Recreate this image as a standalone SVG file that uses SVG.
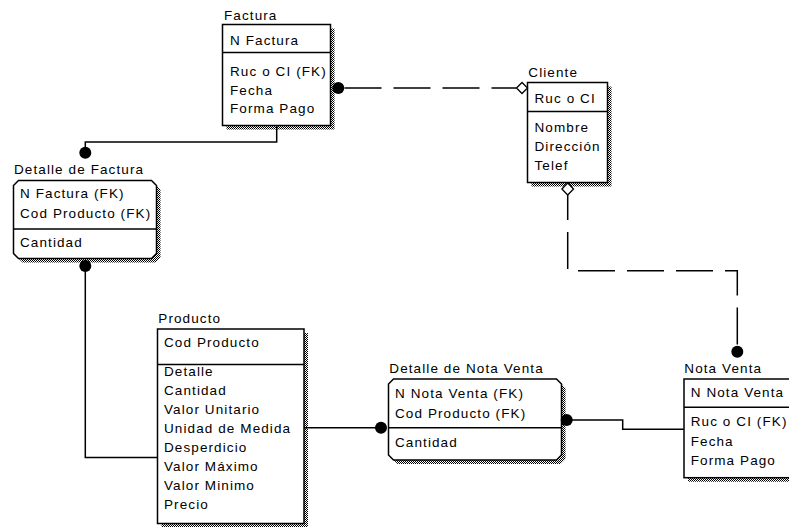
<svg xmlns="http://www.w3.org/2000/svg" width="789" height="527" viewBox="0 0 789 527">
<defs>
<pattern id="dither" patternUnits="userSpaceOnUse" width="2" height="2">
<rect x="0" y="0" width="2" height="2" fill="#fff"/>
<rect x="0" y="0" width="1" height="1" fill="#000"/>
<rect x="1" y="1" width="1" height="1" fill="#000"/>
</pattern>
<style>
.box{fill:#fff;stroke:#000;stroke-width:1.5}
.sh{fill:url(#dither)}
.div{stroke:#000;stroke-width:1.5}
.t{font-family:"Liberation Sans",Arial,sans-serif;font-size:13.5px;letter-spacing:1.1px;fill:#000}
.ln{fill:none;stroke:#000;stroke-width:1.5}
.dash{stroke-dasharray:37 12;stroke-dashoffset:12}
.dot{fill:#000}
.dia{fill:#fff;stroke:#000;stroke-width:1.3}
</style>
</defs>
<rect width="789" height="527" fill="#fff"/>

<g id="factura">
<rect class="sh" x="226.5" y="28.5" width="108" height="101"/>
<rect class="box" x="222.5" y="24.5" width="108" height="101"/>
<line class="div" x1="222.5" y1="52.5" x2="330.5" y2="52.5"/>
<text class="t" x="224" y="20">Factura</text>
<text class="t" x="230" y="45">N Factura</text>
<text class="t" x="230" y="76">Ruc o CI (FK)</text>
<text class="t" x="230" y="94.5">Fecha</text>
<text class="t" x="230" y="113">Forma Pago</text>
</g>

<g id="cliente">
<rect class="sh" x="531.5" y="86.5" width="80" height="100"/>
<rect class="box" x="527.5" y="82.5" width="80" height="100"/>
<line class="div" x1="527.5" y1="111.5" x2="607.5" y2="111.5"/>
<text class="t" x="528.3" y="76.5">Cliente</text>
<text class="t" x="534.5" y="102.5">Ruc o CI</text>
<text class="t" x="534.5" y="131.5">Nombre</text>
<text class="t" x="534.5" y="150.5">Dirección</text>
<text class="t" x="534.5" y="169.5">Telef</text>
</g>

<g id="detalle-factura">
<polygon class="sh" points="22.5,184.5 155.5,184.5 160.5,189.5 160.5,257.5 155.5,262.5 22.5,262.5 17.5,257.5 17.5,189.5"/>
<polygon class="box" points="18.5,180.5 151.5,180.5 156.5,185.5 156.5,253.5 151.5,258.5 18.5,258.5 13.5,253.5 13.5,185.5"/>
<line class="div" x1="13.5" y1="229" x2="156.5" y2="229"/>
<text class="t" x="14" y="174">Detalle de Factura</text>
<text class="t" x="20" y="198.3">N Factura (FK)</text>
<text class="t" x="20" y="218.3">Cod Producto (FK)</text>
<text class="t" x="20" y="247.3">Cantidad</text>
</g>

<g id="producto">
<rect class="sh" x="161.5" y="333" width="146.5" height="194.5"/>
<rect class="box" x="157.5" y="329" width="146.5" height="194.5"/>
<line class="div" x1="157.5" y1="364.5" x2="304" y2="364.5"/>
<text class="t" x="158.3" y="322.7">Producto</text>
<text class="t" x="164" y="346.7">Cod Producto</text>
<text class="t" x="164" y="376">Detalle</text>
<text class="t" x="164" y="395">Cantidad</text>
<text class="t" x="164" y="414">Valor Unitario</text>
<text class="t" x="164" y="433">Unidad de Medida</text>
<text class="t" x="164" y="452">Desperdicio</text>
<text class="t" x="164" y="471">Valor Máximo</text>
<text class="t" x="164" y="490">Valor Minimo</text>
<text class="t" x="164" y="509">Precio</text>
</g>

<g id="detalle-nota-venta">
<polygon class="sh" points="397.5,383 560.5,383 565.5,388 565.5,459 560.5,464 397.5,464 392.5,459 392.5,388"/>
<polygon class="box" points="393.5,379 556.5,379 561.5,384 561.5,455 556.5,460 393.5,460 388.5,455 388.5,384"/>
<line class="div" x1="388.5" y1="427.7" x2="561.5" y2="427.7"/>
<text class="t" x="389.3" y="373">Detalle de Nota Venta</text>
<text class="t" x="395" y="398.3">N Nota Venta (FK)</text>
<text class="t" x="395" y="418.3">Cod Producto (FK)</text>
<text class="t" x="395" y="446.7">Cantidad</text>
</g>

<g id="nota-venta">
<rect class="sh" x="688" y="383" width="120" height="98.7"/>
<rect class="box" x="684" y="379" width="120" height="98.7"/>
<line class="div" x1="684" y1="407.3" x2="804" y2="407.3"/>
<text class="t" x="684.3" y="372.7">Nota Venta</text>
<text class="t" x="690.7" y="396.7">N Nota Venta</text>
<text class="t" x="690.7" y="426">Ruc o CI (FK)</text>
<text class="t" x="690.7" y="446">Fecha</text>
<text class="t" x="690.7" y="465">Forma Pago</text>
</g>

<g id="connectors">
<path class="ln" d="M276.7,126 V142 H85.3 V152.7"/>
<circle class="dot" cx="85.3" cy="152.7" r="6"/>
<path class="ln" d="M85.3,262 V457.5 H157.5"/>
<circle class="dot" cx="85.3" cy="266" r="6"/>
<path class="ln dash" d="M516.5,88 H338"/>
<circle class="dot" cx="338.3" cy="88" r="6"/>
<polygon class="dia" points="516.5,88 522,82.5 527.5,88 522,93.5"/>
<path class="ln dash" d="M567.7,195 V270.7 H737.3 V346"/>
<polygon class="dia" points="567.7,183 573.5,189 567.7,195 561.9,189"/>
<circle class="dot" cx="737.3" cy="351.7" r="6"/>
<path class="ln" d="M304,427.7 H381"/>
<circle class="dot" cx="381" cy="427.7" r="6"/>
<path class="ln" d="M566.7,420 H622.7 V429.3 H684"/>
<circle class="dot" cx="566.7" cy="420" r="6"/>
</g>
</svg>
